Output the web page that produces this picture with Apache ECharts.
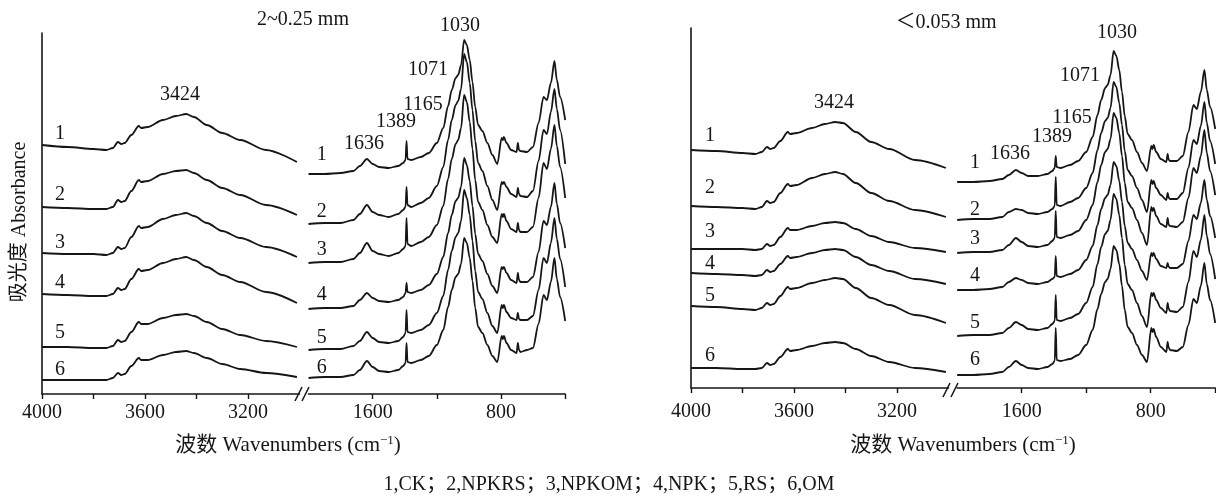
<!DOCTYPE html>
<html><head><meta charset="utf-8">
<script src="https://cdn.jsdelivr.net/npm/echarts@6/dist/echarts.min.js"></script>
<style>html,body{margin:0;padding:0;background:#fff}#c{width:1216px;height:497px}</style>
</head><body><div id="c"></div>
<script>
// ---------- data (relative absorbance, arbitrary units) ----------
const hiWn = [4000,3900,3800,3750,3725,3705,3692,3679,3653,3624,3615,3590,3530,3480,3440,3410,3360,3300,3230,3130,3010];
const fpWn = [2000,1900,1800,1720,1680,1636,1600,1560,1500,1440,1410,1395,1389,1383,1360,1300,1250,1200,1160,1130,1107,1083,1067,1049,1030,1013,995,978,961,943,916,885,854,823,796,789,782,766,737,703,695,688,679,638,601,566,535,514,489,467,452,432,400];

// panel 1: 2~0.25 mm
const hiL1 = [249,247,245,244,246,252,250,251,259,268,266,267,274,278,280,277,269,261,254,244,232];
const hiL2 = [187,186,185,185,187,194,192,193,203,214,212,213,220,223,224,221,214,206,199,189,179];
const hiL3 = [141,140,140,139,141,147,145,146,157,168,166,167,175,179,181,178,171,163,156,147,137];
const hiL4 = [100,99,98,98,100,106,104,105,115,125,123,124,131,135,137,134,127,119,112,102,91];
const hiL5 = [47,47,46,46,48,54,52,53,62,72,70,70,76,79,80,78,72,65,59,53,47];
const hiL6 = [14,14,14,14,16,21,19,20,28,36,34,34,39,42,43,41,36,30,25,21,17];

const fpL1 = [220,220,221,223,228,235,230,227,226,228,231,234,253,235,234,237,241,251,266,288,304,316,319,329,354,349,334,312,287,269,263,251,239,230,256,254,257,251,244,242,251,244,243,242,247,271,297,294,311,333,314,297,274];
const fpL2 = [170,171,171,174,180,189,182,179,177,180,184,187,207,189,187,191,196,208,227,254,274,289,293,305,340,332,311,284,253,231,223,208,194,184,212,210,212,207,200,197,206,200,198,197,203,233,264,260,282,305,285,264,230];
const fpL3 = [131,132,132,135,141,151,143,140,138,141,145,148,176,150,148,152,157,169,188,215,235,250,254,266,299,292,272,245,214,192,184,169,157,151,180,177,180,173,165,162,171,164,162,162,167,196,231,225,245,269,248,227,196];
const fpL4 = [85,86,86,88,94,101,96,93,92,94,97,101,111,102,101,104,109,120,137,161,179,193,196,207,236,229,213,188,160,140,133,120,108,101,127,125,127,121,114,111,121,114,112,112,117,142,173,169,187,211,190,171,146];
const fpL5 = [44,45,45,48,53,62,56,52,51,53,57,61,84,62,61,64,69,81,98,124,143,157,161,173,204,196,179,153,123,102,95,81,68,61,89,86,89,82,76,74,81,75,74,74,78,104,136,131,151,176,155,135,107];
const fpL6 = [16,17,17,19,24,33,27,23,22,24,28,31,51,32,31,34,38,49,64,87,104,117,120,130,156,151,136,113,86,67,61,49,38,32,58,55,58,51,44,41,51,44,42,44,46,70,99,94,112,136,115,97,73];

// panel 2: <0.053 mm
const hiR1 = [238,237,235,234,236,241,239,240,247,256,254,255,260,264,266,265,256,246,239,228,220];
const hiR2 = [182,181,180,179,181,187,185,186,195,204,202,203,210,214,216,214,205,195,187,178,171];
const hiR3 = [139,139,139,138,139,144,142,143,151,160,158,158,162,165,166,165,159,152,146,140,136];
const hiR4 = [115,114,113,112,113,118,116,117,124,132,130,131,135,138,139,138,131,123,117,109,104];
const hiR5 = [82,81,79,78,80,85,83,84,92,101,99,100,105,108,110,109,100,90,83,73,65];
const hiR6 = [20,20,19,19,20,25,23,24,31,39,37,38,42,45,46,45,39,32,26,20,16];

const fpR1 = [206,206,207,209,213,218,215,212,212,214,217,220,232,221,220,223,227,236,251,273,288,300,303,313,337,332,318,296,272,254,248,236,225,217,242,239,243,236,229,226,234,228,227,227,232,256,283,279,296,318,298,281,259];
const fpR2 = [168,169,169,171,176,179,178,175,174,176,179,182,211,183,182,186,190,200,215,238,255,267,270,280,306,301,285,263,237,218,212,200,188,176,208,204,207,200,193,188,195,190,189,189,195,220,248,244,262,286,265,247,224];
const fpR3 = [135,136,136,138,143,150,146,142,141,143,147,150,177,151,150,153,157,168,183,206,223,236,239,249,275,270,255,232,205,186,180,168,155,143,181,177,180,172,164,161,170,163,162,161,166,190,220,215,232,258,235,217,193];
const fpR4 = [98,98,99,101,106,110,108,105,104,106,109,111,132,112,111,114,118,128,142,163,179,190,193,203,226,222,207,186,162,145,139,128,117,108,135,132,135,129,122,120,125,121,120,120,124,147,173,169,185,208,188,172,150];
const fpR5 = [52,53,53,55,60,66,63,59,58,60,64,67,93,68,67,70,74,85,101,124,141,154,157,168,194,189,173,150,123,104,98,85,72,61,95,92,95,88,80,75,85,79,77,76,81,106,137,131,148,173,152,134,109];
const fpR6 = [13,13,14,16,21,27,23,20,19,21,24,27,60,28,27,29,33,43,58,79,94,106,109,119,142,138,124,102,78,61,55,43,33,26,60,56,59,51,41,36,46,40,38,37,41,63,89,85,102,125,104,88,65];

const curveNames = ['1','2','3','4','5','6'];
const hiTicks = [4000,3800,3600,3400,3200];
const hiTickLabels = [4000,3600,3200];
const fpTicks = [1600,1200,800,400];
const fpTickLabels = [1600,800];
const peakLabels = ['3424','1636','1389','1165','1071','1030'];
const panelTitles = ['2~0.25 mm','＜0.053 mm'];
const legendText = '1,CK；2,NPKRS；3,NPKOM；4,NPK；5,RS；6,OM';

// ---------- layout / style ----------
const FONT = '"Liberation Serif", "Times New Roman", "Noto Sans CJK SC", serif';
const INK = '#161616';
const FS = 20;
const grids = [
  {left: 42, top: 33, width: 257.5, height: 361},
  {left: 308.5, top: 33, width: 256.7, height: 361},
  {left: 691, top: 28, width: 257.5, height: 360},
  {left: 957.2, top: 28, width: 258, height: 360}
];
const yMax = [361, 361, 360, 360];
const labelMargin = [9, 9, 14, 14];
const panels = [
  {grid: 0, wn: hiWn, curves: [hiL1,hiL2,hiL3,hiL4,hiL5,hiL6], lw: 3930, dy: [11,12,10,11,14,10]},
  {grid: 1, wn: fpWn, curves: [fpL1,fpL2,fpL3,fpL4,fpL5,fpL6], lw: 1918, dy: [19,12,13,14,12,10]},
  {grid: 2, wn: hiWn, curves: [hiR1,hiR2,hiR3,hiR4,hiR5,hiR6], lw: 3926, dy: [14,18,17,9,10,12]},
  {grid: 3, wn: fpWn, curves: [fpR1,fpR2,fpR3,fpR4,fpR5,fpR6], lw: 1890, dy: [19,10,14,14,13,15]}
];
const peakPos = [
  [[180,95],[364,144],[396,122],[423,105],[428,70],[460,26]],
  [[834,103],[1010,154],[1052,137],[1072,118],[1080,76],[1117,33]]
];

const xAxes = grids.map((g, i) => {
  const hi = (i % 2 === 0);
  return {
    gridIndex: i, type: 'value', inverse: true,
    min: hi ? 3000 : 400, max: hi ? 4000 : 2000, interval: 200,
    axisLine: {show: true, lineStyle: {color: INK, width: 1.6}},
    axisTick: {show: true, length: 5, customValues: hi ? hiTicks : fpTicks, lineStyle: {color: INK, width: 1.4}},
    axisLabel: {show: true, customValues: hi ? hiTickLabels : fpTickLabels, margin: labelMargin[i],
      formatter: v => String(v), color: INK, fontFamily: FONT, fontSize: FS},
    splitLine: {show: false}
  };
});
const yAxes = grids.map((g, i) => ({
  gridIndex: i, type: 'value', min: 0, max: yMax[i],
  axisLine: {show: i % 2 === 0, onZero: false, lineStyle: {color: INK, width: 1.6}},
  axisTick: {show: false}, axisLabel: {show: false}, splitLine: {show: false}
}));

const series = [];
panels.forEach(p => {
  p.curves.forEach((arr, k) => {
    series.push({
      type: 'line', xAxisIndex: p.grid, yAxisIndex: p.grid,
      data: p.wn.map((w, j) => [w, arr[j]]),
      showSymbol: false, smooth: 0.3, smoothMonotone: 'x',
      lineStyle: {color: INK, width: 1.8}, silent: true, z: 3,
      markPoint: {
        symbol: 'circle', symbolSize: 0, silent: true, animation: false,
        label: {show: true, position: 'inside', formatter: '{b}', color: INK, fontFamily: FONT, fontSize: FS},
        data: [{name: curveNames[k], coord: [p.lw, arr[0] + p.dy[k]]}]
      }
    });
  });
});

const txt = (x, y, s, extra, size) => Object.assign({
  type: 'text', x: x, y: y, silent: true,
  style: {text: s, fill: INK, font: (size || FS) + 'px ' + FONT, textAlign: 'center', textVerticalAlign: 'middle'}
}, extra || {});

const graphics = [];
peakPos.forEach(list => list.forEach((pt, i) => graphics.push(txt(pt[0], pt[1], peakLabels[i]))));
graphics.push(txt(303, 20, panelTitles[0]));
graphics.push(txt(946, 23, panelTitles[1]));
graphics.push(txt(609, 485, legendText));
graphics.push(txt(20, 222, '吸光度 Absorbance', {rotation: Math.PI / 2}));
[288, 963].forEach(cx => graphics.push({
  type: 'text', x: cx, y: 445, silent: true,
  style: {
    text: '波数 Wavenumbers (cm{sup|−1})', fill: INK, font: '21px ' + FONT,
    textAlign: 'center', textVerticalAlign: 'middle',
    rich: {sup: {fontSize: 13, fontFamily: FONT, verticalAlign: 'top', fill: INK, padding: [0, 0, 8, 0]}}
  }
}));
// axis break marks
[[295, 401, 302, 387], [302, 401, 309, 387], [943, 397, 950, 383], [951, 397, 958, 383]].forEach(l =>
  graphics.push({type: 'line', silent: true, shape: {x1: l[0], y1: l[1], x2: l[2], y2: l[3]},
    style: {stroke: INK, lineWidth: 1.5}}));

const chart = echarts.init(document.getElementById('c'), null, {renderer: 'canvas'});
chart.setOption({
  animation: false, backgroundColor: '#fff',
  grid: grids.map(g => Object.assign({containLabel: false}, g)),
  xAxis: xAxes, yAxis: yAxes, series: series, graphic: graphics
});
</script></body></html>
